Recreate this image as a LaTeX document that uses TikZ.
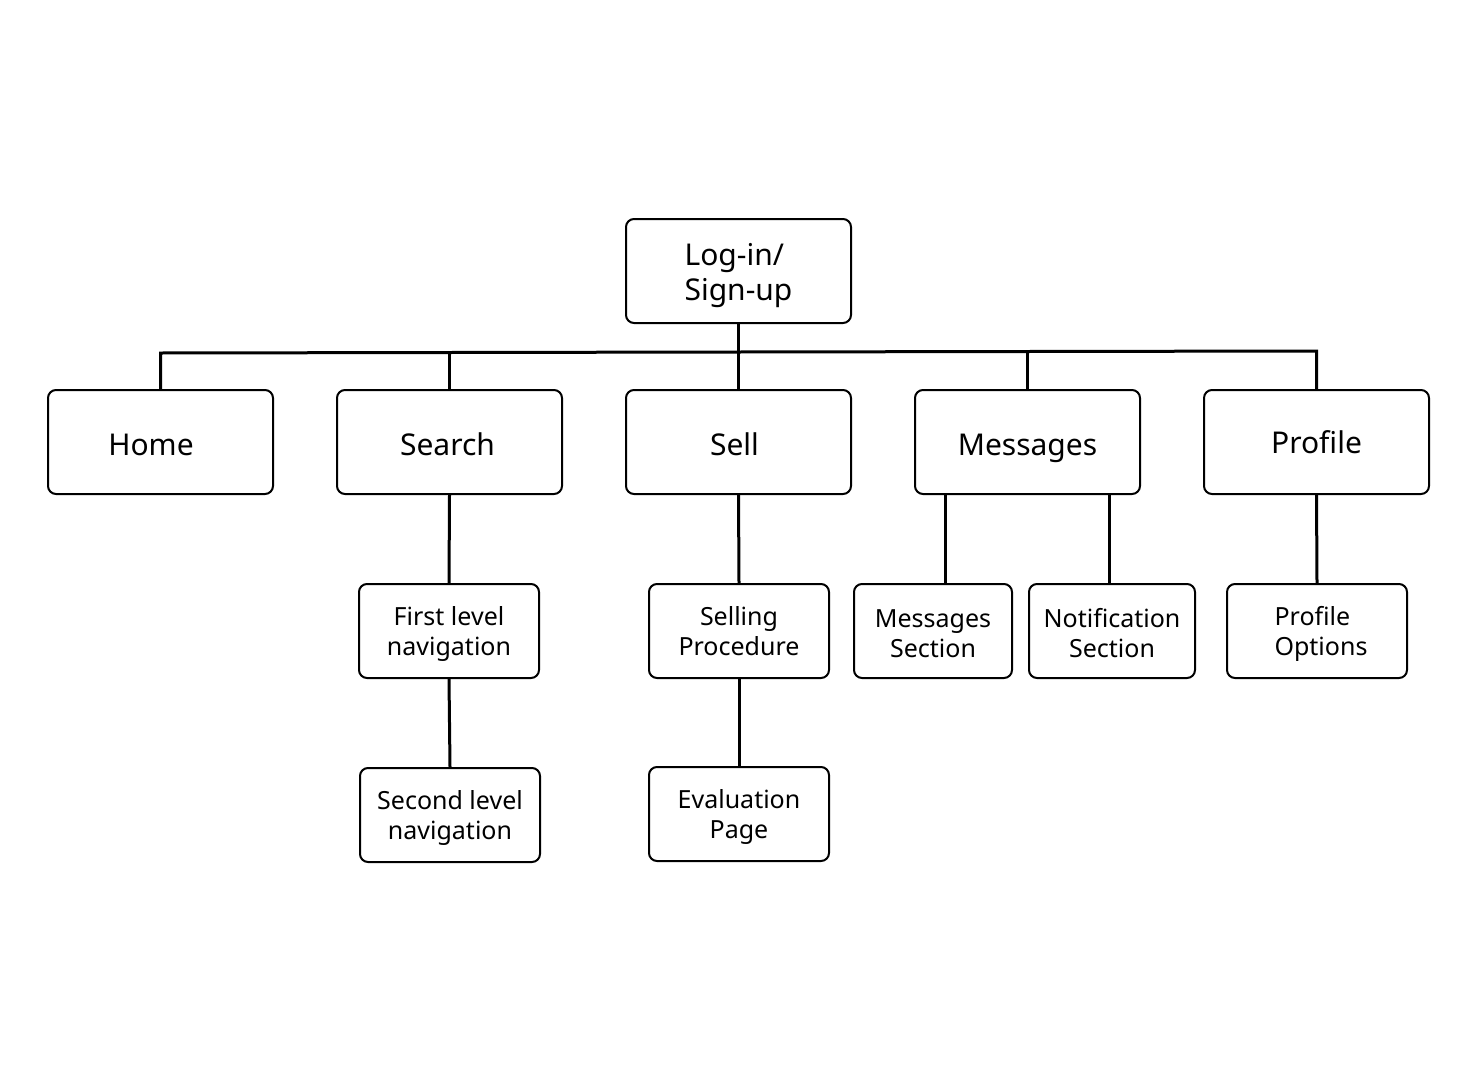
\documentclass[tikz,border=0pt]{standalone}
\usepackage{fontspec}
\setmainfont{Noto Sans}
\newcommand\bstrut{\rule[-8pt]{0pt}{42pt}}
\newcommand\pstrut{\rule[-8pt]{0pt}{38pt}}
\newcommand\topS[1]{\rule{0pt}{#1}}
\newcommand\botS[1]{\rule[-#1]{0pt}{#1}}
\begin{document}
\begin{tikzpicture}[x=1pt,y=-1pt,
  box/.style={draw=black, line width=2pt, rounded corners=8pt, fill=white, inner sep=0pt, align=center},
  big/.style={box, minimum width=225pt, minimum height=104pt, font=\fontsize{30}{35}\selectfont},
  small/.style={box, minimum height=94pt, font=\fontsize{25}{30}\selectfont},
  conn/.style={line width=3pt}]
\useasboundingbox[fill=white] (0,0) rectangle (1477,1081);

\node[big, align=left] (login) at (738.5,271) {\topS{31pt}Log-in/\\Sign-up\botS{8pt}};
\node[big] (home) at (160.5,442) {\bstrut Home\hspace*{19pt}};
\node[big] (search) at (449.5,442) {\bstrut Search\hspace*{4pt}};
\node[big] (sell) at (738.5,442) {\bstrut Sell\hspace*{8pt}};
\node[big] (msg) at (1027.5,442) {\bstrut Messages};
\node[big] (prof) at (1316.5,442) {\pstrut Profile};

\node[small, minimum width=180pt] (first) at (449,631) {\topS{25pt}First level\\navigation\botS{7pt}};
\node[small, minimum width=180pt] (second) at (450,815) {\topS{25pt}Second level\\navigation\botS{7pt}};
\node[small, minimum width=180pt] (selling) at (739,631) {\topS{25pt}Selling\\Procedure\botS{7pt}};
\node[small, minimum width=180pt] (eval) at (739,814) {\topS{25pt}Evaluation\\Page\botS{7pt}};
\node[small, minimum width=158pt] (msgsec) at (933,631) {\topS{29pt}Messages\\Section\botS{7pt}};
\node[small, minimum width=166pt] (notif) at (1112,631) {\topS{29pt}Notification\\Section\botS{7pt}};
\node[small, minimum width=180pt, align=left] (profopt) at (1317,631) {\topS{25pt}\hspace*{8pt}Profile\\\hspace*{8pt}Options\botS{7pt}};

\coordinate (busL) at (162,353);
\coordinate (busR) at (1315,351);

\draw[conn] (home.north) -- (home.north |- busL) -- (prof.north |- busR) -- (prof.north);
\draw[conn] (login.south) -- (login.south |- 0,352);
\draw[conn] (search.north) -- (search.north |- busL);
\draw[conn] (sell.north) -- (sell.north |- busL);
\draw[conn] (msg.north) -- (msg.north |- busR);

\draw[conn] (search.south) -- (first.north);
\draw[conn] (first.south) -- (second.north);
\draw[conn] (sell.south) -- (selling.north);
\draw[conn] (selling.south) -- (eval.north);
\draw[conn] ([xshift=12pt]msgsec.north) -- ([xshift=12pt]msgsec.north |- msg.south);
\draw[conn] ([xshift=-3pt]notif.north) -- ([xshift=-3pt]notif.north |- msg.south);
\draw[conn] (prof.south) -- (profopt.north);
\end{tikzpicture}
\end{document}
